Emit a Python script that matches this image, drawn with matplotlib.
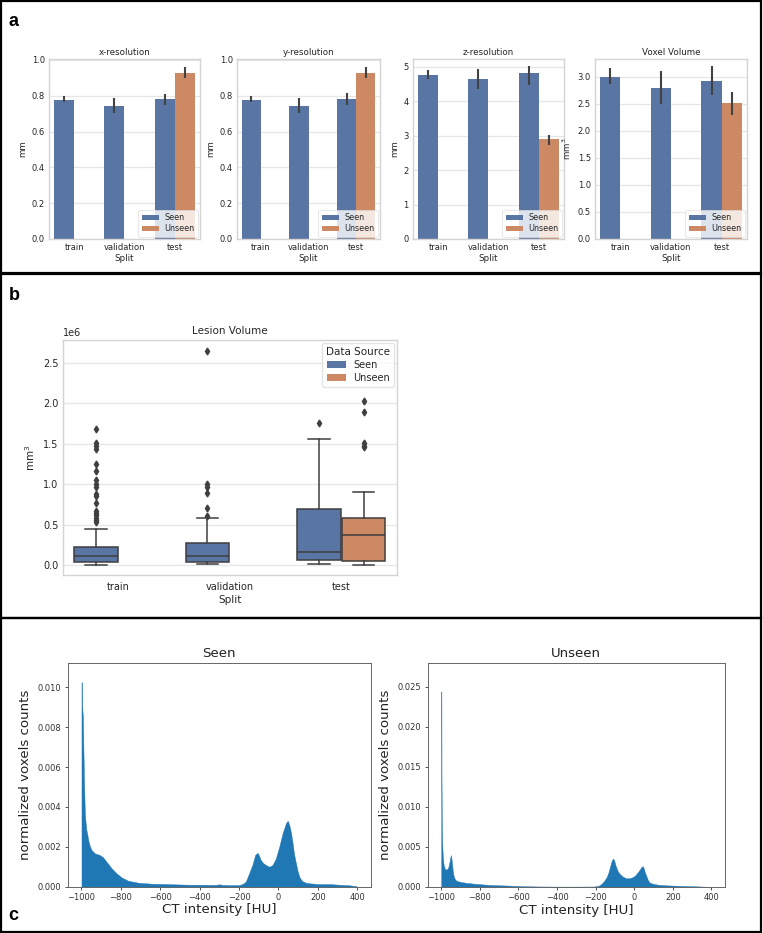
import matplotlib
matplotlib.use("Agg")
import matplotlib.pyplot as plt
from matplotlib.patches import Rectangle, Patch
import numpy as np

W, H = 763, 933
fig = plt.figure(figsize=(W / 100, H / 100), dpi=100)

# ---------------- data ----------------
splits = ["train", "validation", "test"]
sources = ["Seen", "Unseen"]
BLUE = "#5975A4"
ORANGE = "#CC8963"

# Panel a: mean and CI bounds (Seen for train/validation/test, Unseen only test)
xres_seen = [0.778, 0.743, 0.780]
xres_seen_lo = [0.763, 0.702, 0.750]
xres_seen_hi = [0.800, 0.785, 0.811]
xres_unseen = [0.928]
xres_unseen_lo = [0.898]
xres_unseen_hi = [0.959]

yres_seen = [0.778, 0.743, 0.780]
yres_seen_lo = [0.763, 0.702, 0.746]
yres_seen_hi = [0.800, 0.785, 0.817]
yres_unseen = [0.928]
yres_unseen_lo = [0.898]
yres_unseen_hi = [0.959]

zres_seen = [4.758, 4.652, 4.807]
zres_seen_lo = [4.633, 4.340, 4.460]
zres_seen_hi = [4.913, 4.930, 5.020]
zres_unseen = [2.890]
zres_unseen_lo = [2.720]
zres_unseen_hi = [3.020]

vox_seen = [3.000, 2.796, 2.918]
vox_seen_lo = [2.870, 2.500, 2.660]
vox_seen_hi = [3.150, 3.097, 3.196]
vox_unseen = [2.506]
vox_unseen_lo = [2.290]
vox_unseen_hi = [2.709]

# Panel b: lesion volume box stats [whislo, q1, med, q3, whishi] (mm^3)
train_seen_box = [0.003e6, 0.040e6, 0.110e6, 0.226e6, 0.450e6]
train_seen_fliers = [1.683e6, 1.502e6, 1.465e6, 1.436e6, 1.247e6, 1.160e6, 1.049e6,
                     0.996e6, 0.967e6, 0.877e6, 0.856e6, 0.761e6, 0.667e6, 0.638e6,
                     0.613e6, 0.576e6, 0.556e6, 0.527e6]
val_seen_box = [0.008e6, 0.040e6, 0.115e6, 0.267e6, 0.584e6]
val_seen_fliers = [2.642e6, 1.000e6, 0.967e6, 0.893e6, 0.700e6, 0.605e6]
test_seen_box = [0.012e6, 0.062e6, 0.156e6, 0.695e6, 1.556e6]
test_seen_fliers = [1.749e6]
test_unseen_box = [0.004e6, 0.045e6, 0.366e6, 0.584e6, 0.905e6]
test_unseen_fliers = [2.025e6, 1.889e6, 1.502e6, 1.473e6, 1.453e6]

# Panel c: CT intensity histograms (HU, normalized counts)
seen_hu = [-1000, -1000, -998, -997, -993, -990, -987, -983, -979, -975, -970, -966,
           -958, -949, -932, -907, -890, -873, -847, -822, -797, -763, -712, -644,
           -559, -500, -450, -400, -320, -300, -285, -250, -200, -183, -166, -149,
           -132, -118, -106, -98, -90, -77, -64, -47, -30, -13, 4, 21, 38, 47, 55,
           64, 72, 80, 89, 97, 106, 115, 123, 140, 157, 208, 259, 310, 361, 395, 400]
seen_counts = [0.0, 0.01025, 0.01025, 0.00911, 0.0085, 0.0068, 0.0052, 0.0037, 0.0032,
               0.00284, 0.0026, 0.00234, 0.00205, 0.00184, 0.00167, 0.00159, 0.00147,
               0.00125, 0.00092, 0.00067, 0.00047, 0.0003, 0.0002, 0.00015, 0.00013,
               0.00011, 0.0001, 0.0001, 0.00009, 0.00012, 0.00009, 0.00008, 0.00008,
               0.00013, 0.00025, 0.00067, 0.0011, 0.0016, 0.0017, 0.00155, 0.00134,
               0.00118, 0.00109, 0.001, 0.00109, 0.00142, 0.002, 0.00268, 0.00318,
               0.00331, 0.0031, 0.0027, 0.00217, 0.0016, 0.00117, 0.0008, 0.0005,
               0.00035, 0.00027, 0.0002, 0.00017, 0.00013, 0.00013, 0.0001, 0.00007,
               0.00003, 0.0]

unseen_hu = [-1000, -1000, -999, -998.5, -997, -995, -992, -987, -982, -976, -970,
             -966, -962, -958, -954, -950, -947, -944, -940, -936, -930, -922, -910,
             -899, -865, -813, -745, -642, -573, -500, -400, -300, -210, -185, -169,
             -155, -143, -134, -126, -118, -111, -105, -97, -86, -74, -57, -40, -23,
             -6, 7, 20, 29, 37, 44, 50, 54, 62, 71, 80, 97, 120, 140, 174, 220, 260,
             300, 363, 380]
unseen_counts = [0.0, 0.02445, 0.02445, 0.0141, 0.0088, 0.0056, 0.0038, 0.0027, 0.0023,
                 0.0022, 0.0022, 0.0023, 0.0026, 0.0030, 0.0036, 0.0040, 0.0036, 0.0029,
                 0.0020, 0.0014, 0.0010, 0.0008, 0.0007, 0.00063, 0.0005, 0.00038,
                 0.00025, 0.00017, 0.0001, 0.00007, 0.00005, 0.00005, 0.00006, 0.00015,
                 0.0004, 0.0008, 0.00125, 0.0018, 0.0025, 0.0032, 0.00355, 0.0034,
                 0.0027, 0.002, 0.0016, 0.00125, 0.00108, 0.0011, 0.00125, 0.0015,
                 0.0019, 0.0022, 0.0025, 0.0026, 0.0023, 0.0019, 0.0014, 0.00084,
                 0.00055, 0.0004, 0.0003, 0.00025, 0.0002, 0.00016, 0.00013, 0.0001,
                 0.00005, 0.0]


# ---------------- helpers ----------------
def px_axes(l, t, r, b):
    return fig.add_axes([l / W, 1 - b / H, (r - l) / W, (b - t) / H])


TXT = "#262626"
GRID = "#e6e6e6"
EDGE = "#d4d4d4"


def style_sns(ax, fs):
    ax.set_facecolor("white")
    for s in ax.spines.values():
        s.set_color(EDGE)
        s.set_linewidth(1.0)
    ax.yaxis.grid(True, color=GRID, lw=0.9)
    ax.xaxis.grid(False)
    ax.set_axisbelow(True)
    ax.tick_params(length=0, labelsize=fs, colors=TXT, pad=3)


# ---------------- panel a ----------------
panel_a = [
    ("x-resolution", "mm", xres_seen, xres_seen_lo, xres_seen_hi, xres_unseen, xres_unseen_lo,
     xres_unseen_hi, 1.005, np.arange(0, 1.01, 0.2), (49, 200), "%.1f"),
    ("y-resolution", "mm", yres_seen, yres_seen_lo, yres_seen_hi, yres_unseen, yres_unseen_lo,
     yres_unseen_hi, 1.005, np.arange(0, 1.01, 0.2), (237, 380), "%.1f"),
    ("z-resolution", "mm", zres_seen, zres_seen_lo, zres_seen_hi, zres_unseen, zres_unseen_lo,
     zres_unseen_hi, 5.22, np.arange(0, 5.1, 1), (413, 564), "%d"),
    ("Voxel Volume", "mm$^3$", vox_seen, vox_seen_lo, vox_seen_hi, vox_unseen, vox_unseen_lo,
     vox_unseen_hi, 3.325, np.arange(0, 3.01, 0.5), (595, 747), "%.1f"),
]
for title, ylab, s, slo, shi, u, ulo, uhi, ytop, yt, (l, r), fmt in panel_a:
    ax = px_axes(l, 59, r, 239)
    style_sns(ax, 6.0)
    xs = np.arange(len(splits)) - 0.2
    ax.bar(xs, s, width=0.4, color=BLUE, zorder=2)
    ax.vlines(xs, slo, shi, color="#424242", lw=1.5, zorder=3)
    xu = np.array([2]) + 0.2
    ax.bar(xu, u, width=0.4, color=ORANGE, zorder=2)
    ax.vlines(xu, ulo, uhi, color="#424242", lw=1.5, zorder=3)
    ax.set_xlim(-0.5, 2.5)
    ax.set_ylim(0, ytop)
    ax.set_yticks(yt)
    ax.set_yticklabels([fmt % v for v in yt])
    ax.set_xticks(range(3))
    ax.set_xticklabels(splits)
    ax.set_title(title, fontsize=6.3, color=TXT, pad=3)
    ax.set_xlabel("Split", fontsize=6.3, color=TXT, labelpad=1)
    ax.set_ylabel(ylab, fontsize=6.3, color=TXT, labelpad=3)
    handles = [Patch(facecolor=BLUE, label="Seen"), Patch(facecolor=ORANGE, label="Unseen")]
    leg = ax.legend(handles=handles, loc="lower right", fontsize=5.8, frameon=True,
                    handlelength=2.2, handleheight=0.6, borderpad=0.4, labelspacing=0.3,
                    handletextpad=0.6, borderaxespad=0.3, fancybox=True)
    leg.get_frame().set_edgecolor("#dddddd")
    leg.get_frame().set_linewidth(0.6)
    for t in leg.get_texts():
        t.set_color(TXT)

# ---------------- panel b ----------------
axb = px_axes(62.5, 340, 397, 575)
style_sns(axb, 7)
boxes = [
    (train_seen_box, train_seen_fliers, -0.2, BLUE),
    (val_seen_box, val_seen_fliers, 0.8, BLUE),
    (test_seen_box, test_seen_fliers, 1.8, BLUE),
    (test_unseen_box, test_unseen_fliers, 2.2, ORANGE),
]
LINE = "#3f3f3f"
for bx, fl, pos, col in boxes:
    st = dict(whislo=bx[0], q1=bx[1], med=bx[2], q3=bx[3], whishi=bx[4], fliers=fl)
    axb.bxp([st], positions=[pos], widths=0.392, patch_artist=True, manage_ticks=False,
            boxprops=dict(facecolor=col, edgecolor=LINE, lw=1.1),
            medianprops=dict(color=LINE, lw=1.1),
            whiskerprops=dict(color=LINE, lw=1.1),
            capprops=dict(color=LINE, lw=1.1),
            flierprops=dict(marker="d", markerfacecolor=LINE, markeredgecolor=LINE,
                            markersize=3.5),
            zorder=2)
axb.set_xlim(-0.5, 2.5)
axb.set_ylim(-0.123e6, 2.78e6)
axb.set_yticks(np.arange(0, 2.6e6, 0.5e6))
axb.set_xticks(range(3))
axb.set_xticklabels(splits)
axb.tick_params(axis="x", pad=5)
axb.ticklabel_format(axis="y", style="sci", scilimits=(0, 0))
axb.yaxis.get_offset_text().set_fontsize(7)
axb.yaxis.get_offset_text().set_color(TXT)
axb.set_title("Lesion Volume", fontsize=7.5, color=TXT, pad=4)
axb.set_xlabel("Split", fontsize=7.5, color=TXT, labelpad=2)
axb.set_ylabel("mm$^3$", fontsize=7.5, color=TXT, labelpad=4)
handles = [Patch(facecolor=BLUE, label="Seen"),
           Patch(facecolor=ORANGE, label="Unseen")]
legb = axb.legend(handles=handles, title="Data Source", loc="upper right", fontsize=7,
                  title_fontsize=7.5, handlelength=2.0, handleheight=0.7, borderpad=0.4,
                  labelspacing=0.3, handletextpad=0.7, borderaxespad=0.3)
legb.get_frame().set_edgecolor("#dddddd")
for t in legb.get_texts():
    t.set_color(TXT)
legb.get_title().set_color(TXT)

# ---------------- panel c ----------------
HIST = "#1f77b4"
for (l, t, r, b), title, hu, cnt, ytop, yt, fmt in [
    ((67.7, 662.7, 371, 886.7), "Seen", seen_hu, seen_counts, 0.01123,
     np.arange(0, 0.0101, 0.002), "%.3f"),
    ((427.7, 663, 725, 887), "Unseen", unseen_hu, unseen_counts, 0.028,
     np.arange(0, 0.0251, 0.005), "%.3f"),
]:
    ax = px_axes(l, t, r, b)
    ax.fill_between(hu, 0, cnt, color=HIST, lw=0.3, edgecolor=HIST)
    ax.set_xlim(-1070, 470)
    ax.set_ylim(0, ytop)
    ax.set_yticks(yt)
    ax.set_yticklabels([fmt % v for v in yt])
    ax.set_xticks(np.arange(-1000, 401, 200))
    ax.set_xticklabels(["\u2212%d" % -v if v < 0 else "%d" % v for v in np.arange(-1000, 401, 200)])
    ax.tick_params(labelsize=6.0, length=2.5, width=0.6, colors="#333333", pad=2)
    for s in ax.spines.values():
        s.set_color("#666666")
        s.set_linewidth(0.7)
    ax.set_title(title, fontsize=9.6, color="#222222", pad=4)
    ax.set_xlabel("CT intensity [HU]", fontsize=9.6, color="#222222", labelpad=1)
    ax.set_ylabel("normalized voxels counts", fontsize=9.6, color="#222222", labelpad=4)

# ---------------- panel frames and letters ----------------
def frame(t, b):
    fig.add_artist(Rectangle((1 / W, 1 - b / H), (761 - 1) / W, (b - t) / H,
                             transform=fig.transFigure, fill=False, ec="black", lw=1.6))

frame(0.8, 273.5)
frame(273.5, 618)
frame(618, 932)

for letter, x, y in [("a", 13, 22), ("b", 14, 295), ("c", 13, 915)]:
    fig.text(x / W, 1 - y / H, letter, fontsize=13, fontweight="bold",
             family="Liberation Sans", ha="center", va="center")

fig.savefig("out.png", dpi=100)
